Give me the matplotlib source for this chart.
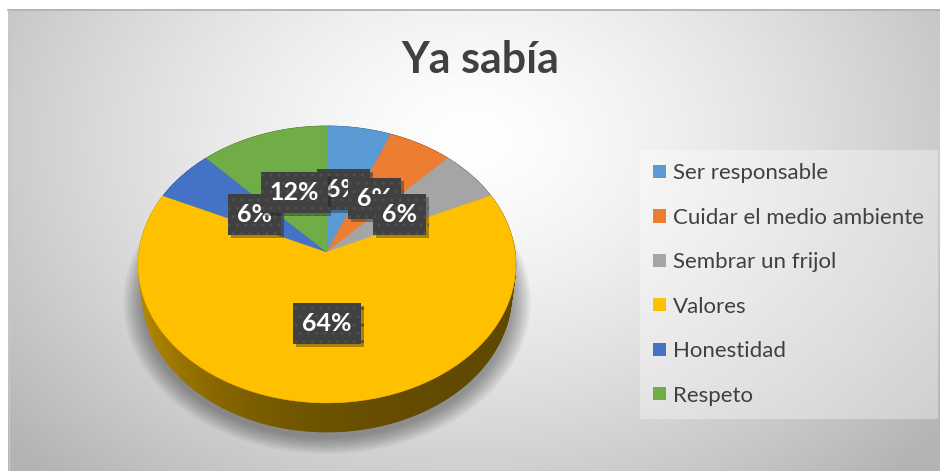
import numpy as np
import matplotlib
matplotlib.use("Agg")
import matplotlib.pyplot as plt
from matplotlib.patches import Patch
from matplotlib.colors import to_rgb
import matplotlib.patheffects as pe

# ---- data ----
categories = ["Ser responsable", "Cuidar el medio ambiente", "Sembrar un frijol",
              "Valores", "Honestidad", "Respeto"]
percentages = [6, 6, 6, 64, 6, 12]
colors = ["#5B9BD5", "#ED7D31", "#A5A5A5", "#FFC000", "#4472C4", "#70AD47"]
title = "Ya sabía"

plt.rcParams['font.family'] = ['Lato', 'DejaVu Sans']

W, H = 940, 471
fig = plt.figure(figsize=(W / 100, H / 100), dpi=100)
ax = fig.add_axes([0, 0, 1, 1])

# ---- chart area background: soft radial gradient ----
yy, xx = np.mgrid[0:H, 0:W]
v = np.sqrt(((xx - 470) / 560.0) ** 2 + ((yy - 140) / 420.0) ** 2)
g = 1 - 0.26 * np.clip(v, 0, 1.1) ** 1.4
img = np.dstack([g, g, g])
img[:9, :] = 1.0
img[:, :8] = 1.0
ax.imshow(img, extent=(0, W, H, 0), zorder=0, interpolation='bilinear')
ax.plot([8, W], [9.5, 9.5], color='#b0b0b0', lw=1.2, zorder=0.5)
ax.plot([8.5, 8.5], [9, H], color='#c8c8c8', lw=1.0, zorder=0.5)
ax.set_aspect('auto')
ax.set_xlim(0, W)
ax.set_ylim(H, 0)
ax.axis('off')

# ---- 3D pie projection ----
tilt = np.radians(46.9)
D, f = 7.58, 1425.0
cx, cy = 327.0, 252.0
depth = 0.238


def proj(x, z, h=0.0):
    Y = z * np.sin(tilt) + h * np.cos(tilt)
    Zc = D - z * np.cos(tilt) + h * np.sin(tilt)
    return cx + f * x / Zc, cy + f * Y / Zc


fr = np.array(percentages, dtype=float) / sum(percentages)
bounds = np.concatenate([[0.0], np.cumsum(fr)]) * 2 * np.pi

# soft shadow under the pie
phi = np.linspace(0, 2 * np.pi, 400)
for k in range(16):
    r = 1 + 0.0065 * (k + 1)
    sx, sy = proj(r * np.sin(phi), -r * np.cos(phi), depth)
    ax.fill(sx, sy + 5, color='black', alpha=0.022, lw=0, zorder=1)


def shade(sx):
    return 0.36 + 0.36 * np.exp(-(sx - 139) / 110.0)


# side wall, drawn back to front
quads = []
for i in range(len(percentages)):
    a0, a1 = bounds[i], bounds[i + 1]
    n = max(2, int(np.degrees(a1 - a0) / 1.0))
    ang = np.linspace(a0, a1, n + 1)
    base = np.array(to_rgb(colors[i]))
    for j in range(n):
        ta, tb = ang[j], ang[j + 1]
        xa, za = np.sin(ta), -np.cos(ta)
        xb, zb = np.sin(tb), -np.cos(tb)
        p1 = proj(xa, za); p2 = proj(xb, zb)
        p3 = proj(xb, zb, depth); p4 = proj(xa, za, depth)
        xs = [p1[0], p2[0], p3[0], p4[0]]
        ys = [p1[1], p2[1], p3[1], p4[1]]
        col = np.clip(base * shade(np.mean(xs)), 0, 1)
        quads.append(((za + zb) / 2, xs, ys, col))
quads.sort(key=lambda q: q[0])
for _, xs, ys, col in quads:
    ax.fill(xs, ys, color=col, lw=0.6, ec=col, zorder=2)

# top face
for i in range(len(percentages)):
    ang = np.linspace(bounds[i], bounds[i + 1], 200)
    sx, sy = proj(np.sin(ang), -np.cos(ang))
    ax.fill(np.r_[cx, sx], np.r_[cy, sy], color=colors[i], lw=0.4,
            ec=colors[i], zorder=3)

# data labels
for i, p in enumerate(percentages):
    mid = (bounds[i] + bounds[i + 1]) / 2
    r = 0.49
    lx, ly = proj(r * np.sin(mid), -r * np.cos(mid))
    t = ax.text(lx, ly + 1, f"{p}%", ha='center', va='center', color='white',
                fontsize=18, fontweight='bold', zorder=10 + i,
                bbox=dict(boxstyle='square,pad=0.36', fc='#404040',
                          ec='#4f4f4f', lw=0, hatch='..'))
    t.get_bbox_patch().set_path_effects(
        [pe.SimplePatchShadow(offset=(2, -2), alpha=0.35), pe.Normal()])

# title
ax.text(480, 60, title, ha='center', va='center', fontsize=31,
        fontweight='bold', color='#404040', zorder=5)

# legend
handles = [Patch(facecolor=c, edgecolor='none') for c in colors]
leg = ax.legend(handles, categories, loc='upper left',
                bbox_to_anchor=(640 / W, 1 - 150 / H), borderaxespad=0,
                frameon=True, fancybox=False, facecolor='white',
                framealpha=0.35, edgecolor='none', fontsize=16,
                labelcolor='#404040', handlelength=0.55, handleheight=0.55,
                handletextpad=0.35, labelspacing=1.1, borderpad=0.6)
leg.set_zorder(6)

fig.savefig("out.png", dpi=100)
